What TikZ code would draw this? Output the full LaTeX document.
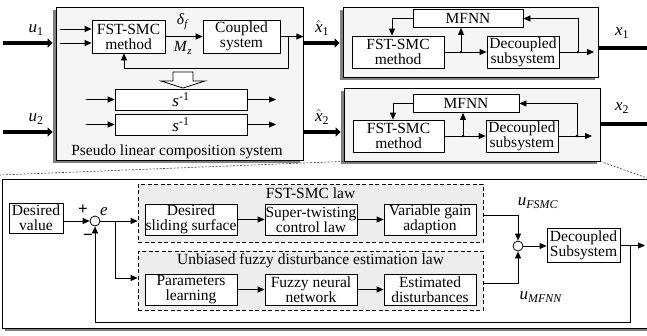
\documentclass[tikz,border=0pt]{standalone}
\usepackage{fontspec}
\setmainfont{Liberation Serif}
\usetikzlibrary{arrows.meta,calc}
\definecolor{boxfill}{gray}{0.96}
\definecolor{shadowc}{gray}{0.5}
\definecolor{dashfill}{gray}{0.93}
\newcommand\myfs{\fontsize{15.5}{15}\selectfont}
\newcommand\bigfs{\fontsize{17}{17}\selectfont}
\newcommand\xhat[1]{$\hat{\hbox{\textit{x}}}$\textsubscript{#1}}
\begin{document}
\begin{tikzpicture}[x=1pt,y=-1pt,
 blk/.style={draw,fill=white,line width=0.8pt,inner sep=0pt,align=center,font=\myfs},
 bigbox/.style={draw,fill=boxfill,line width=0.8pt,inner sep=0pt},
 dbox/.style={draw,dash pattern=on 4pt off 2.5pt,fill=dashfill,line width=0.8pt,inner sep=0pt},
 lbl/.style={inner sep=0pt,font=\myfs},
 blbl/.style={inner sep=0pt,font=\bigfs},
 ar/.style={line width=0.8pt,-{Triangle[length=7pt,width=6pt]}},
 wire/.style={line width=0.8pt},
 thk/.style={line width=3.8pt,-{Triangle[length=5pt,width=9pt]}},
 thl/.style={line width=3.8pt},
 sumc/.style={draw,circle,fill=white,line width=0.8pt,minimum size=10pt,inner sep=0pt},
 jdot/.style={circle,fill=black,inner sep=0pt,minimum size=2.6pt},
 zoomln/.style={line width=0.6pt,dash pattern=on 2pt off 1.5pt,black!75}
]
\useasboundingbox (0,0) rectangle (647,335);

% ---------- right boxes ----------
\fill[shadowc] (340,10) rectangle (595,80);
\node[bigbox,minimum width=255pt,minimum height=70pt] (rbA) at (470.5,42) {};
\fill[shadowc] (341,91) rectangle (597,164);
\node[bigbox,minimum width=256pt,minimum height=73pt] (rbB) at (472,124.5) {};

% zoom lines
\coordinate (zl) at (0,175);
\coordinate (zr) at (647,178);
\draw[zoomln] (rbB.south west) -- (zl);
\draw[zoomln] (rbB.south east) -- (zr);

% ---------- top-left box ----------
\fill[shadowc] (53,10) rectangle (300,163);
\node[bigbox,minimum width=247pt,minimum height=153pt] (plcs) at (179.5,83.5) {};
\node[lbl] (plcst) at (177,152) {Pseudo linear composition system};

\node[blk,minimum width=73pt,minimum height=33pt] (fsA) at (128.5,36.5) {FST-SMC\\method};
\node[blk,minimum width=77pt,minimum height=33pt] (cpl) at (241.5,36.5) {Coupled\\system};
\coordinate (inA) at (60,29);
\coordinate (inB) at (60,43);
\draw[ar] (inA) -- (inA -| fsA.west);
\draw[ar] (inB) -- (inB -| fsA.west);
\draw[ar] (fsA.east) -- (cpl.west);
\node[lbl] (delta) at (183,22) {\textit{δ}\textsubscript{\textit{f}}};
\node[lbl] (mz) at (183,48) {\textit{M}\textsubscript{\textit{z}}};
\draw[ar] (cpl.east) -- (cpl.east -| plcs.east);
\coordinate (fbA) at (288,36.5);
\coordinate (fbB) at (124,68);
\draw[ar] (fbA) |- (fbB) -- (fbB |- fsA.south);

\draw[wire,fill=white] (173,72) -- (193,72) -- (193,81) -- (205,81) -- (183,88) -- (161,81) -- (173,81) -- cycle;

\node[blk,font=\bigfs,minimum width=132pt,minimum height=21pt] (sA) at (181,99.5) {\textit{s}\textsuperscript{-1}};
\node[blk,font=\bigfs,minimum width=132pt,minimum height=21pt] (sB) at (181,124.5) {\textit{s}\textsuperscript{-1}};
\coordinate (sAi) at (86,99.5);
\coordinate (sAo) at (276,99.5);
\coordinate (sBi) at (86,124.5);
\coordinate (sBo) at (276,124.5);
\draw[ar] (sAi) -- (sA.west);
\draw[ar] (sA.east) -- (sAo);
\draw[ar] (sBi) -- (sB.west);
\draw[ar] (sB.east) -- (sBo);

% thick inputs / outputs
\node[blbl] (u1) at (36,30) {\textit{u}\textsubscript{1}};
\node[blbl] (u2) at (36,119) {\textit{u}\textsubscript{2}};
\coordinate (u1s) at (3,43);
\coordinate (u2s) at (3,132);
\draw[thk] (u1s) -- ($(u1s -| plcs.west)+(-3,0)$);
\draw[thk] (u2s) -- ($(u2s -| plcs.west)+(-3,0)$);
\node[blbl] (xh1) at (322,28) {\xhat{1}};
\node[blbl] (xh2) at (322,117) {\xhat{2}};
\coordinate (xh1s) at (303,43);
\coordinate (xh2s) at (303,132);
\draw[thk] (xh1s) -- ($(xh1s -| rbA.west)+(-3,0)$);
\draw[thk] (xh2s) -- ($(xh2s -| rbB.west)+(-3,0)$);
\node[blbl] (x1) at (622,33) {\textit{x}\textsubscript{1}};
\node[blbl] (x2) at (622,108) {\textit{x}\textsubscript{2}};
\coordinate (x1s) at (598,48);
\coordinate (x1e) at (648,48);
\coordinate (x2s) at (600,124);
\coordinate (x2e) at (648,124);
\draw[thl] (x1s) -- (x1e);
\draw[thl] (x2s) -- (x2e);

% ---------- right upper contents ----------
\node[blk,minimum width=110pt,minimum height=18pt] (mfA) at (468,18.5) {MFNN};
\node[blk,minimum width=92pt,minimum height=32pt] (fsB) at (398,52) {FST-SMC\\method};
\node[blk,minimum width=72pt,minimum height=32pt] (dcA) at (523,52) {Decoupled\\subsystem};
\draw[ar] (fsB.east) -- (dcA.west);
\coordinate (jA) at (461,52);
\draw[ar] (jA) -- (jA |- mfA.south);
\node[jdot] (jAd) at (jA) {};
\coordinate (oA) at (594,52);
\draw[ar] (dcA.east) -- (oA);
\coordinate (jB) at (578,52);
\draw[ar] (jB) |- (mfA.east);
\node[jdot] (jBd) at (jB) {};
\coordinate (kA) at (392,18.5);
\draw[ar] (mfA.west) -- (kA) -- (kA |- fsB.north);

% ---------- right lower contents ----------
\node[blk,minimum width=106pt,minimum height=18pt] (mfB) at (466,103.5) {MFNN};
\node[blk,minimum width=91pt,minimum height=32pt] (fsC) at (398.5,136) {FST-SMC\\method};
\node[blk,minimum width=72pt,minimum height=32pt] (dcB) at (522,136) {Decoupled\\subsystem};
\draw[ar] (fsC.east) -- (dcB.west);
\coordinate (jC) at (463,136);
\draw[ar] (jC) -- (jC |- mfB.south);
\node[jdot] (jCd) at (jC) {};
\coordinate (oB) at (592,136);
\draw[ar] (dcB.east) -- (oB);
\coordinate (jD) at (577,136);
\draw[ar] (jD) |- (mfB.east);
\node[jdot] (jDd) at (jD) {};
\coordinate (kB) at (393,103.5);
\draw[ar] (mfB.west) -- (kB) -- (kB |- fsC.north);

% ---------- bottom box ----------
\fill[shadowc] (5,182) rectangle (651,331);
\node[bigbox,fill=white,minimum width=646pt,minimum height=149pt] (bot) at (325,253.5) {};

\node[blk,minimum width=54pt,minimum height=30pt] (des) at (36,218) {Desired\\value};
\node[sumc] (s1) at (95,221) {};
\node[blbl] (plus) at (83,210) {\textbf{+}};
\node[blbl] (minus) at (88,237) {\textbf{−}};
\node[blbl] (e) at (104,212) {\textit{e}};
\draw[ar] (des.east |- s1.west) -- (s1.west);

\node[dbox,minimum width=345pt,minimum height=58pt] (fl) at (310.5,213) {};
\node[lbl] (flt) at (310.5,193) {FST-SMC law};
\node[dbox,minimum width=345pt,minimum height=59pt] (ul) at (310.5,280.5) {};
\node[lbl] (ult) at (310.5,261) {Unbiased fuzzy disturbance estimation law};

\node[blk,minimum width=92pt,minimum height=31pt] (dss) at (191,219.5) {Desired\\sliding surface};
\node[blk,minimum width=92pt,minimum height=31pt] (stc) at (311,219.5) {Super-twisting\\control law};
\node[blk,minimum width=92pt,minimum height=31pt] (vga) at (430,219.5) {Variable gain\\adaption};
\node[blk,minimum width=92pt,minimum height=31pt] (prl) at (191,289.5) {Parameters\\learning};
\node[blk,minimum width=92pt,minimum height=31pt] (fnn) at (311,289.5) {Fuzzy neural\\network};
\node[blk,minimum width=92pt,minimum height=31pt] (edi) at (430,289.5) {Estimated\\disturbances};
\draw[ar] (dss) -- (stc);
\draw[ar] (stc) -- (vga);
\draw[ar] (prl) -- (fnn);
\draw[ar] (fnn) -- (edi);

\draw[ar] (s1.east) -- (s1.east -| fl.west);
\coordinate (jE) at (115,221);
\coordinate (jF) at (115,278);
\draw[ar] (jE) -- (jF) -- (jF -| ul.west);

\node[sumc] (s2) at (518,246) {};
\coordinate (fo) at (483,215);
\coordinate (uo) at (483,283);
\draw[ar] (fo) -| (s2.north);
\draw[ar] (uo) -| (s2.south);
\node[blbl] (ufs) at (538,203) {\textit{u}\textsubscript{\textit{FSMC}}};
\node[blbl] (umf) at (541,297) {\textit{u}\textsubscript{\textit{MFNN}}};

\node[blk,minimum width=73pt,minimum height=34pt] (dcC) at (583.5,245.5) {Decoupled\\Subsystem};
\draw[ar] (s2.east) -- (s2.east -| dcC.west);
\coordinate (oC) at (645,245.5);
\draw[ar] (dcC.east) -- (oC);
\coordinate (jG) at (630,245.5);
\coordinate (jH) at (630,322);
\draw[ar] (jG) -- (jH) -| (s1.south);
\end{tikzpicture}
\end{document}
